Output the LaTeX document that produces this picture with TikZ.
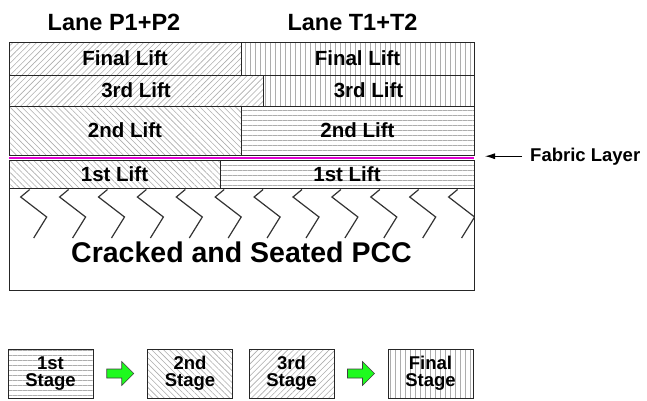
\documentclass[tikz,border=0pt]{standalone}
\usepackage{fontspec}
\setmainfont{Liberation Sans}
\usetikzlibrary{patterns.meta,arrows.meta,calc}
\definecolor{hatch}{gray}{0.68}
\definecolor{fabmag}{RGB}{225,0,210}
\definecolor{arrgreen}{RGB}{30,250,30}
\begin{document}
\begin{tikzpicture}[x=1pt,y=-1pt,
  cell/.style={draw=black!85, line width=0.9pt},
  pne/.style={pattern={Lines[angle=45,distance=4.2pt,line width=0.6pt]},pattern color=hatch},
  pnw/.style={pattern={Lines[angle=-45,distance=4.2pt,line width=0.6pt]},pattern color=hatch},
  phor/.style={pattern={Lines[angle=0,distance=5pt,line width=0.6pt]},pattern color=hatch},
  pver/.style={pattern={Lines[angle=90,distance=5pt,line width=0.6pt]},pattern color=hatch},
  lbl/.style={font=\fontsize{20.5}{22}\selectfont\bfseries, inner sep=0pt, anchor=base},
  ttl/.style={font=\fontsize{23.5}{26}\selectfont\bfseries, inner sep=0pt, anchor=base},
  zig/.style={draw=black!80, line width=1.2pt},
  stagebox/.style={draw=black!85, line width=0.9pt, minimum width=85pt, minimum height=49pt,
    inner sep=0pt, align=center, font=\fontsize{18.5}{17}\selectfont\bfseries},
  garrow/.style={draw=black!75, line width=0.6pt, fill=arrgreen}
]
\useasboundingbox (0,0) rectangle (647,400);

% titles
\node[ttl] (tp) at (114,30) {Lane P1+P2};
\node[ttl] (tt) at (352.5,30) {Lane T1+T2};

% lifts
\path[cell,pne]  (9,42.7) rectangle (241,75.5);
\path[cell,pver] (241,42.7) rectangle (474,75.5);
\path[cell,pne]  (9,75.5) rectangle (263,106.7);
\path[cell,pver] (263,75.5) rectangle (474,106.7);
\path[cell,pnw]  (9,106.7) rectangle (241,155.7);
\path[cell,phor] (241,106.7) rectangle (474,155.7);
\draw[fabmag, line width=2.2pt] (9,157.8) -- (474,157.8);
\path[cell,pnw]  (9,160) rectangle (220,188);
\path[cell,phor] (220,160) rectangle (474,188);
\draw[cell] (9,188) rectangle (474,290);

\node[lbl] (fl1) at (125,65) {Final Lift};
\node[lbl] (fl2) at (357.5,65) {Final Lift};
\node[lbl] (tl1) at (136,97.7) {3rd Lift};
\node[lbl] (tl2) at (368.5,97.7) {3rd Lift};
\node[lbl] (sl1) at (125,137.7) {2nd Lift};
\node[lbl] (sl2) at (357.5,137.7) {2nd Lift};
\node[lbl] (ol1) at (114.5,181) {1st Lift};
\node[lbl] (ol2) at (347,181) {1st Lift};

% zigzag cracks
\begin{scope}
\clip (9,188) rectangle (474,290);
\foreach \i in {0,...,11}{
  \pgfmathsetmacro{\xo}{20.7+38.9*\i}
  \draw[zig, line join=miter] (\xo+9,189.5) -- (\xo,197) -- (\xo+26,217) -- (\xo+13,238);
}
\end{scope}
\node[font=\fontsize{28.5}{30}\selectfont\bfseries, inner sep=0pt, anchor=base] (pcc) at (241.5,262.7) {Cracked and Seated PCC};

% fabric layer
\node[font=\fontsize{18.5}{20}\selectfont\bfseries, inner sep=0pt, anchor=base west] (fab) at (530,161) {Fabric Layer};
\coordinate (fabtip) at (485,0);
\draw[-{Latex[length=10pt,width=6pt]}, line width=0.9pt] ([xshift=-8pt]fab.west) -- (fab.west -| fabtip);

% legend
\node[stagebox, phor] (s1) at (50.5,373.5) {1st\\Stage};
\node[stagebox, pnw]  (s2) at (190,373.5) {2nd\\Stage};
\node[stagebox, pne]  (s3) at (291.5,373.5) {3rd\\Stage};
\node[stagebox, pver] (s4) at (430.5,373.5) {Final\\Stage};

\coordinate (a1) at ($(s1.east)!0.5!(s2.west)$);
\coordinate (a2) at ($(s3.east)!0.5!(s4.west)$);
\foreach \a in {a1,a2}{
  \draw[garrow, shift={(\a)}] (-13.5,-4.5) -- (1.5,-4.5) -- (1.5,-12) -- (13.5,0) -- (1.5,12) -- (1.5,4.5) -- (-13.5,4.5) -- cycle;
}
\end{tikzpicture}
\end{document}
